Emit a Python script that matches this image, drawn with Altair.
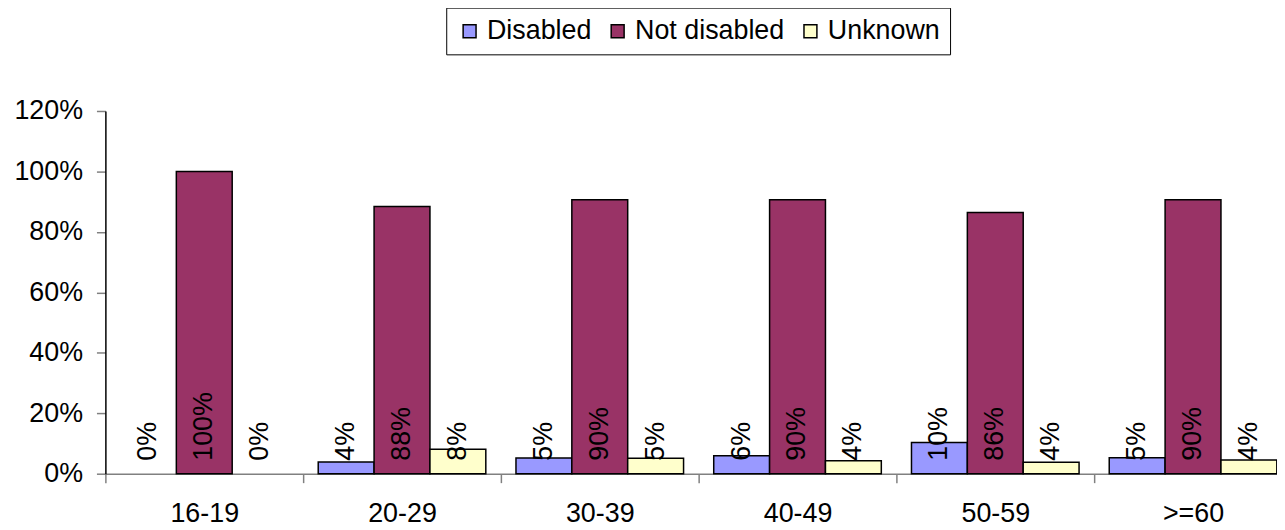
import altair as alt
import pandas as pd

groups = ["16-19", "20-29", "30-39", "40-49", "50-59", ">=60"]
series = ["Disabled", "Not disabled", "Unknown"]
colors = ["#9999FF", "#993366", "#FFFFCC"]

disabled = [0, 3.9, 5.2, 5.9, 10.3, 5.3]
not_disabled = [100, 88.4, 90.6, 90.6, 86.4, 90.6]
unknown = [0, 8.1, 5.1, 4.3, 3.8, 4.5]

disabled_lbl = ["0%", "4%", "5%", "6%", "10%", "5%"]
not_disabled_lbl = ["100%", "88%", "90%", "90%", "86%", "90%"]
unknown_lbl = ["0%", "8%", "5%", "4%", "4%", "4%"]

y_ticks = [0, 0.2, 0.4, 0.6, 0.8, 1.0, 1.2]

rows = []
for s, vals, lbls in zip(series, [disabled, not_disabled, unknown],
                         [disabled_lbl, not_disabled_lbl, unknown_lbl]):
    for g, v, l in zip(groups, vals, lbls):
        rows.append({"group": g, "series": s, "value": v / 100.0, "label": l})
df = pd.DataFrame(rows)

FONT = "Liberation Sans"
FS = 27

x_enc = alt.X(
    "group:N", sort=groups, title=None,
    scale=alt.Scale(range=[0, 1194], paddingInner=0, paddingOuter=0),
    axis=alt.Axis(labelAngle=0, tickBand="extent", domainColor="#808080",
                  tickColor="#808080", tickSize=9, labelFontSize=FS,
                  labelFont=FONT, labelColor="black", labelPadding=18,
                  domainWidth=1.5, tickWidth=1.5),
)
xoff_enc = alt.XOffset("series:N", sort=series,
                       scale=alt.Scale(domain=series, paddingOuter=0.27, paddingInner=0))

bars = alt.Chart(df).transform_filter(alt.datum.value > 0).mark_bar(
    stroke="black", strokeWidth=1.5
).encode(
    x=x_enc,
    xOffset=xoff_enc,
    y=alt.Y("value:Q", scale=alt.Scale(domain=[0, 1.2]), title=None,
            axis=alt.Axis(format="%", values=y_ticks, grid=False,
                          domainColor="black", tickColor="#808080",
                          tickSize=9, labelFontSize=FS, labelFont=FONT,
                          labelColor="black", labelPadding=14,
                          domainWidth=1.5, tickWidth=1.5)),
    color=alt.Color("series:N", sort=series,
                    scale=alt.Scale(domain=series, range=colors),
                    legend=alt.Legend(orient="none", legendX=343, legendY=-104,
                                      direction="horizontal", columns=3,
                                      title=None, strokeColor="black",
                                      padding=10, symbolType="square",
                                      symbolSize=169, symbolStrokeColor="black",
                                      symbolStrokeWidth=1.5, labelFontSize=FS,
                                      labelFont=FONT, labelColor="black",
                                      columnPadding=12, labelOffset=4,
                                      symbolOpacity=1)),
)

labels = alt.Chart(df).mark_text(
    angle=270, align="left", baseline="middle", dx=13,
    fontSize=FS, font=FONT, color="black",
).encode(
    x=x_enc,
    xOffset=xoff_enc,
    y=alt.datum(0),
    text="label:N",
)

chart = alt.layer(bars, labels).properties(
    width=1179, height=365,
    autosize=alt.AutoSizeParams(type="none"),
    padding={"left": 98, "top": 102, "right": 0, "bottom": 52},
).configure_view(stroke=None)

chart.save("out.html", embed_options={"renderer": "svg", "actions": False})
